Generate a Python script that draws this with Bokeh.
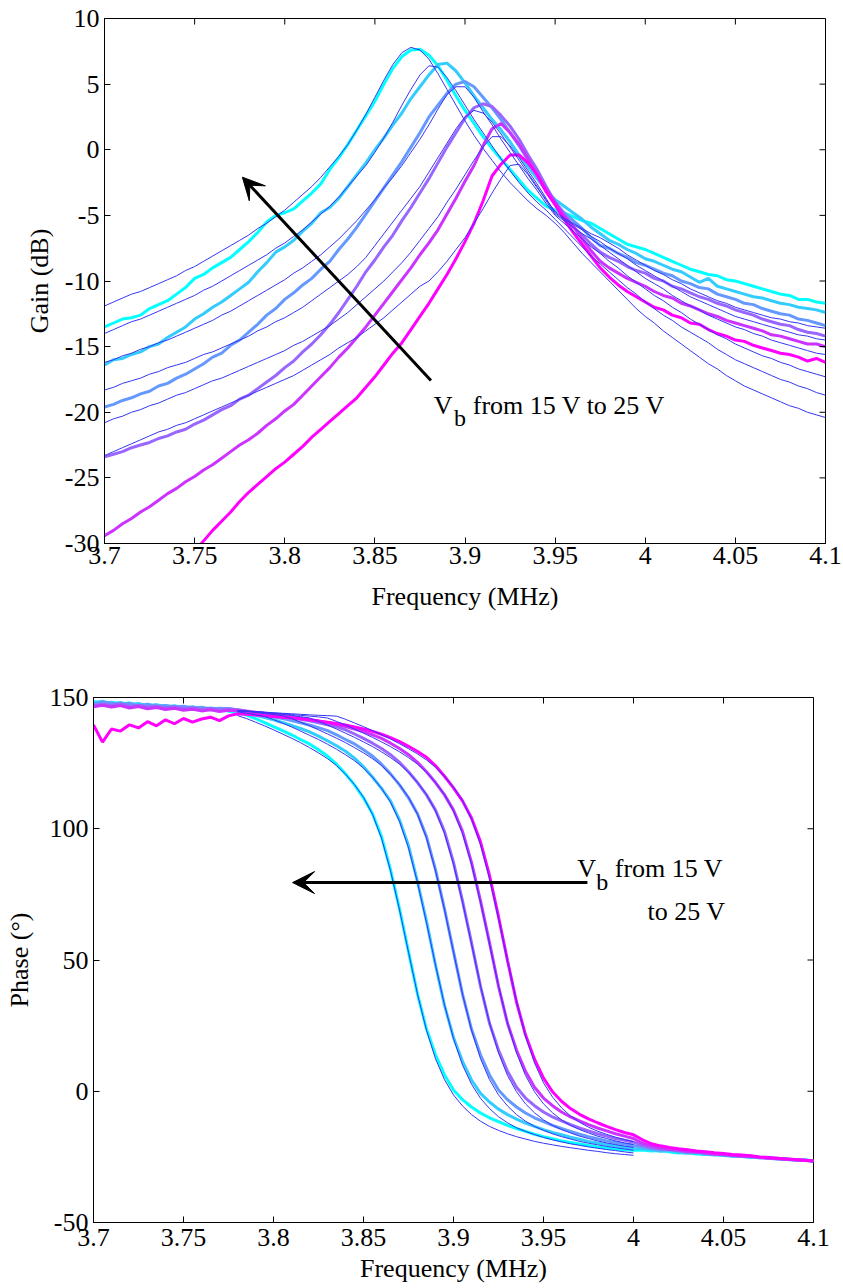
import numpy as np
from bokeh.plotting import figure
from bokeh.layouts import column
from bokeh.models import Range1d, FixedTicker, Label, Arrow, VeeHead
from bokeh.embed import file_html
from bokeh.resources import INLINE

nan = float("nan")

# ---------------- data ----------------
FREQ_MHZ = np.round(np.linspace(3.70, 4.10, 81), 3)          # measurement sweep grid
FREQ_MODEL_PHASE = np.round(np.linspace(3.78, 4.00, 45), 3)  # model grid (phase)

X_TICKS = [3.7, 3.75, 3.8, 3.85, 3.9, 3.95, 4.0, 4.05, 4.1]
X_TICK_LABELS = ["3.7", "3.75", "3.8", "3.85", "3.9", "3.95", "4", "4.05", "4.1"]
GAIN_TICKS = [-30, -25, -20, -15, -10, -5, 0, 5, 10]
GAIN_TICK_LABELS = ["-30", "-25", "-20", "-15", "-10", "-5", "0", "5", "10"]
PHASE_TICKS = [-50, 0, 50, 100, 150]
PHASE_TICK_LABELS = ["-50", "0", "50", "100", "150"]

MEAS_COLORS = ["#00FFFF", "#33CCFF", "#6699FF", "#9966FF", "#CC33FF", "#FF00FF"]
MODEL_COLOR = "#3535F5"

# measured gain (dB), Vb = 25 V ... 15 V
GAIN_M1 = [-13.5,-13.2,-12.9,-12.8,-12.6,-12.1,-11.8,-11.5,-11.0,-10.5,
           -9.8,-9.5,-9.0,-8.6,-8.2,-7.6,-7.0,-6.3,-5.5,-5.0,
           -4.8,-4.5,-3.9,-3.3,-2.6,-1.5,-0.6,0.4,1.5,2.6,
           3.7,5.0,6.2,7.1,7.6,7.65,7.2,6.4,5.3,4.1,
           3.0,2.0,1.0,0.1,-0.7,-1.5,-2.3,-3.1,-3.7,-4.3,
           -4.6,-4.8,-5.1,-5.4,-5.6,-6.0,-6.4,-6.8,-7.2,-7.4,
           -7.6,-7.9,-8.2,-8.5,-8.8,-9.1,-9.3,-9.5,-9.6,-9.9,
           -10.0,-10.2,-10.4,-10.6,-10.8,-11.0,-11.1,-11.4,-11.4,-11.6,
           -11.7]
GAIN_M2 = [-16.4,-16.0,-15.9,-15.6,-15.4,-15.0,-14.8,-14.3,-13.9,-13.5,
           -12.9,-12.5,-12.0,-11.6,-11.1,-10.6,-10.1,-9.3,-8.6,-7.8,
           -7.4,-6.9,-6.2,-5.6,-4.8,-4.4,-3.7,-2.8,-1.9,-1.0,
           0.0,0.9,1.9,2.8,3.9,4.8,5.7,6.5,6.6,6.0,
           5.1,4.1,3.2,2.3,1.5,0.6,-0.4,-1.3,-2.2,-3.1,
           -3.8,-4.3,-4.8,-5.3,-5.9,-6.4,-6.9,-7.2,-7.6,-7.9,
           -8.3,-8.5,-8.8,-9.1,-9.3,-9.7,-10.1,-9.8,-10.4,-10.6,
           -10.8,-11.0,-11.2,-11.3,-11.5,-11.7,-11.8,-12.0,-12.1,-12.2,
           -12.4]
GAIN_M3 = [-19.6,-19.4,-19.1,-18.9,-18.6,-18.4,-18.0,-17.8,-17.4,-17.1,
           -16.7,-16.3,-15.8,-15.5,-14.9,-14.5,-13.9,-13.3,-12.6,-12.1,
           -11.4,-10.9,-10.3,-9.8,-9.1,-8.5,-7.6,-6.8,-5.9,-4.9,
           -3.9,-2.9,-1.9,-0.9,0.2,1.3,2.5,3.4,4.3,5.0,
           5.2,4.8,4.0,3.2,2.3,1.3,0.3,-0.8,-1.9,-3.0,
           -4.0,-4.8,-5.4,-6.0,-6.7,-7.3,-7.5,-7.9,-8.2,-8.6,
           -8.8,-9.1,-9.4,-9.6,-10.0,-10.2,-10.5,-10.6,-11.0,-11.2,
           -11.4,-11.7,-11.8,-12.1,-12.3,-12.5,-12.6,-12.9,-13.0,-13.2,
           -13.4]
GAIN_M4 = [-23.4,-23.2,-23.0,-22.7,-22.5,-22.3,-22.0,-21.8,-21.5,-21.3,
           -20.9,-20.6,-20.2,-19.8,-19.5,-19.0,-18.7,-18.2,-17.7,-17.2,
           -16.6,-16.1,-15.4,-14.8,-14.1,-13.3,-12.4,-11.4,-10.4,-9.3,
           -8.4,-7.4,-6.5,-5.4,-4.4,-3.3,-2.2,-1.0,0.2,1.3,
           2.4,3.2,3.5,3.3,2.6,1.8,0.8,-0.4,-1.5,-2.8,
           -4.0,-5.1,-5.9,-6.5,-7.2,-7.8,-8.2,-8.5,-8.9,-9.2,
           -9.4,-9.8,-10.0,-10.4,-10.6,-10.9,-11.2,-11.4,-11.7,-11.9,
           -12.2,-12.4,-12.6,-12.9,-13.1,-13.3,-13.4,-13.7,-13.9,-14.0,
           -14.2]
GAIN_M5 = [-29.4,-29.0,-28.5,-28.1,-27.6,-27.2,-26.7,-26.2,-25.8,-25.3,
           -24.9,-24.4,-24.0,-23.5,-23.0,-22.5,-22.1,-21.6,-21.0,-20.5,
           -19.9,-19.4,-18.7,-18.0,-17.3,-16.6,-15.8,-15.1,-14.3,-13.5,
           -12.6,-11.7,-10.8,-9.9,-9.0,-8.0,-7.1,-6.1,-4.9,-3.7,
           -2.4,-1.2,0.3,1.6,2.0,1.3,0.4,-0.7,-1.9,-3.0,
           -4.0,-5.0,-5.8,-6.8,-7.7,-8.5,-9.0,-9.4,-9.8,-10.1,
           -10.4,-10.8,-11.1,-11.3,-11.7,-11.9,-12.2,-12.5,-12.7,-13.0,
           -13.2,-13.4,-13.6,-13.8,-14.1,-14.2,-14.4,-14.6,-14.8,-14.8,
           -15.0]
GAIN_M6 = [nan,nan,nan,nan,nan,nan,nan,nan,nan,nan,
           -30.6,-29.8,-29.0,-28.3,-27.6,-26.8,-26.1,-25.5,-24.9,-24.3,
           -23.8,-23.2,-22.6,-21.9,-21.3,-20.7,-20.1,-19.5,-18.9,-18.1,
           -17.3,-16.4,-15.5,-14.7,-13.7,-12.7,-11.7,-10.6,-9.5,-8.3,
           -7.0,-5.6,-3.9,-2.0,-1.1,-0.4,-0.4,-1.0,-1.9,-3.2,
           -4.2,-5.3,-6.3,-7.2,-8.1,-9.0,-9.7,-10.3,-10.8,-11.2,
           -11.6,-12.0,-12.2,-12.6,-12.8,-13.2,-13.3,-13.7,-14.0,-14.2,
           -14.5,-14.6,-14.9,-15.1,-15.3,-15.5,-15.6,-15.8,-16.1,-15.9,
           -16.2]

# model gain (dB)
GAIN_L1 = [-11.9,-11.6,-11.3,-11.0,-10.8,-10.5,-10.2,-9.9,-9.6,-9.2,
           -8.9,-8.5,-8.1,-7.7,-7.3,-6.9,-6.5,-6.0,-5.6,-5.1,
           -4.6,-4.0,-3.4,-2.8,-2.1,-1.3,-0.5,0.4,1.5,2.7,
           4.0,5.3,6.5,7.4,7.8,7.6,6.9,5.8,4.6,3.4,
           2.2,1.1,0.1,-0.8,-1.7,-2.5,-3.2,-3.9,-4.5,-5.0,
           -5.6,-6.3,-7.1,-7.9,-8.6,-9.3,-10.0,-10.7,-11.4,-12.1,
           -12.7,-13.2,-13.8,-14.3,-14.8,-15.3,-15.8,-16.3,-16.7,-17.2,
           -17.6,-18.0,-18.3,-18.6,-18.9,-19.2,-19.5,-19.7,-20.0,-20.2,
           -20.4]
GAIN_L2 = [-14.0,-13.7,-13.4,-13.1,-12.9,-12.6,-12.3,-12.0,-11.7,-11.4,
           -11.1,-10.7,-10.4,-10.0,-9.6,-9.2,-8.8,-8.4,-8.0,-7.5,
           -7.1,-6.6,-6.1,-5.5,-4.9,-4.3,-3.6,-2.8,-2.0,-1.2,
           -0.2,0.9,2.1,3.4,4.6,5.7,6.4,6.3,5.5,4.5,
           3.4,2.3,1.3,0.3,-0.7,-1.6,-2.5,-3.3,-4.0,-4.6,
           -5.3,-6.0,-6.7,-7.4,-8.1,-8.7,-9.3,-9.9,-10.5,-11.0,
           -11.6,-12.1,-12.6,-13.0,-13.5,-13.9,-14.3,-14.7,-15.2,-15.6,
           -16.0,-16.3,-16.6,-16.9,-17.2,-17.5,-17.7,-18.0,-18.2,-18.5,
           -18.7]
GAIN_L3 = [-16.2,-16.0,-15.7,-15.5,-15.2,-15.0,-14.7,-14.5,-14.2,-13.9,
           -13.6,-13.3,-13.0,-12.6,-12.3,-11.9,-11.5,-11.1,-10.7,-10.3,
           -9.9,-9.4,-9.0,-8.5,-8.0,-7.4,-6.8,-6.1,-5.4,-4.6,
           -3.8,-2.9,-2.1,-1.2,-0.2,0.8,1.9,3.1,4.2,4.8,
           4.8,4.0,2.9,1.9,0.8,-0.2,-1.2,-2.2,-3.1,-4.1,
           -5.0,-5.6,-6.2,-6.8,-7.4,-7.9,-8.5,-9.0,-9.6,-10.1,
           -10.6,-11.1,-11.5,-12.0,-12.4,-12.9,-13.3,-13.7,-14.1,-14.4,
           -14.8,-15.1,-15.4,-15.7,-15.9,-16.2,-16.4,-16.7,-16.9,-17.1,
           -17.3]
GAIN_L4 = [-18.3,-18.1,-17.8,-17.6,-17.4,-17.1,-16.9,-16.6,-16.4,-16.2,
           -15.9,-15.6,-15.4,-15.1,-14.8,-14.5,-14.2,-13.8,-13.5,-13.1,
           -12.8,-12.4,-12.0,-11.5,-11.0,-10.5,-10.0,-9.5,-8.9,-8.2,
           -7.3,-6.4,-5.5,-4.6,-3.7,-2.8,-1.7,-0.6,0.5,1.6,
           2.5,3.0,2.8,2.1,1.2,0.2,-0.8,-1.8,-2.8,-3.9,
           -4.9,-5.4,-5.9,-6.4,-6.8,-7.3,-7.8,-8.3,-8.8,-9.3,
           -9.8,-10.2,-10.6,-11.1,-11.5,-11.9,-12.2,-12.6,-12.9,-13.2,
           -13.5,-13.7,-14.0,-14.2,-14.5,-14.7,-14.9,-15.1,-15.3,-15.5,
           -15.6]
GAIN_L5 = [-20.8,-20.5,-20.3,-20.0,-19.8,-19.5,-19.3,-19.0,-18.7,-18.5,
           -18.2,-17.9,-17.6,-17.4,-17.1,-16.8,-16.5,-16.2,-15.9,-15.6,
           -15.3,-14.9,-14.6,-14.2,-13.8,-13.4,-12.9,-12.4,-11.8,-11.2,
           -10.6,-10.0,-9.3,-8.6,-7.8,-6.9,-6.0,-5.1,-4.0,-3.0,
           -1.9,-0.8,0.2,1.0,1.0,0.3,-0.6,-1.6,-2.6,-3.7,
           -4.8,-5.3,-5.7,-6.1,-6.6,-7.0,-7.5,-7.9,-8.3,-8.8,
           -9.2,-9.6,-10.0,-10.4,-10.8,-11.2,-11.5,-11.8,-12.1,-12.4,
           -12.7,-12.9,-13.1,-13.3,-13.5,-13.7,-13.9,-14.1,-14.2,-14.4,
           -14.5]
GAIN_L6 = [-23.3,-23.0,-22.7,-22.4,-22.1,-21.8,-21.5,-21.3,-21.0,-20.8,
           -20.5,-20.2,-19.9,-19.6,-19.3,-19.0,-18.7,-18.4,-18.1,-17.8,
           -17.5,-17.2,-16.8,-16.4,-16.0,-15.6,-15.1,-14.7,-14.3,-13.8,
           -13.3,-12.8,-12.2,-11.6,-11.0,-10.4,-10.0,-9.3,-8.5,-7.6,
           -6.7,-5.6,-4.5,-3.3,-2.2,-1.2,-1.1,-1.9,-2.9,-3.8,
           -4.7,-5.2,-5.6,-6.0,-6.4,-6.7,-7.1,-7.5,-8.0,-8.4,
           -8.8,-9.2,-9.5,-9.9,-10.2,-10.6,-10.9,-11.2,-11.5,-11.7,
           -12.0,-12.2,-12.4,-12.6,-12.8,-12.9,-13.1,-13.2,-13.4,-13.5,
           -13.6]

# measured phase (deg)
PHASE_M1 = [148.5,147.8,148.2,147.5,147.9,147.0,147.4,146.6,147.0,146.2,
            146.5,145.8,146.1,145.3,145.5,144.8,144.3,143.3,142.0,140.4,
            138.9,137.4,135.8,134.0,132.3,130.1,127.7,124.6,120.9,116.7,
            111.8,105.7,97.0,84.4,69.5,53.2,37.0,23.7,13.9,6.2,
            0.5,-3.2,-6.0,-8.3,-10.1,-11.6,-13.0,-14.2,-15.3,-16.4,
            -17.3,-18.1,-18.9,-19.5,-20.1,-20.7,-21.2,-21.6,-22.0,-22.3,
            -22.5,-22.4,-22.8,-22.6,-23.1,-23.5,-23.3,-23.9,-24.1,-23.9,
            -24.5,-24.7,-24.6,-25.1,-25.3,-25.1,-25.7,-25.8,-26.1,-26.2,
            -26.6]
PHASE_M2 = [148.0,148.6,147.6,148.1,147.2,147.7,146.8,147.3,146.5,146.9,
            146.1,146.5,145.7,146.0,145.6,145.8,145.0,144.2,143.3,142.4,
            141.5,140.5,139.4,138.2,136.9,135.3,133.5,131.6,129.5,126.9,
            123.6,119.7,115.4,110.6,103.4,93.6,79.9,64.8,48.1,32.7,
            20.5,11.4,4.3,-0.8,-4.1,-6.8,-8.9,-10.6,-12.1,-13.4,
            -14.6,-15.7,-16.6,-17.5,-18.3,-19.1,-19.7,-20.3,-20.8,-21.3,
            -21.8,-22.0,-22.3,-22.9,-22.6,-23.2,-23.6,-23.4,-24.0,-24.3,
            -24.2,-24.8,-24.9,-25.2,-25.0,-25.6,-25.7,-26.0,-26.3,-26.1,
            -26.7]
PHASE_M3 = [147.5,148.2,147.9,147.3,147.8,146.8,147.4,146.5,147.0,146.3,
            146.7,145.9,146.3,145.6,145.9,145.7,145.3,144.7,144.1,143.4,
            142.7,142.0,141.2,140.4,139.5,138.5,137.4,135.8,134.0,132.3,
            130.1,127.7,124.6,120.9,116.7,111.8,105.7,97.0,84.4,69.5,
            53.2,37.0,23.7,13.9,6.2,0.5,-3.2,-6.0,-8.3,-10.1,
            -11.6,-13.0,-14.2,-15.3,-16.4,-17.3,-18.1,-18.9,-19.5,-20.1,
            -20.7,-21.2,-21.9,-22.4,-22.2,-22.9,-23.3,-23.1,-23.8,-24.0,
            -24.3,-24.5,-24.4,-25.0,-25.2,-25.4,-25.5,-25.9,-26.0,-26.4,
            -26.5]
PHASE_M4 = [146.8,147.5,147.0,147.6,146.6,147.1,146.3,146.8,146.0,146.5,
            145.7,146.1,145.4,145.8,145.2,145.6,145.3,144.9,144.4,143.9,
            143.4,142.9,142.3,141.7,141.1,140.4,139.6,138.8,137.7,136.1,
            134.4,132.6,130.6,128.2,125.3,121.7,117.6,112.9,107.1,99.0,
            87.2,72.5,56.6,40.0,25.9,15.7,7.6,1.5,-2.6,-5.5,
            -7.9,-9.8,-11.3,-12.7,-14.0,-15.1,-16.2,-17.1,-18.0,-18.7,
            -19.4,-20.6,-21.5,-21.9,-22.3,-22.6,-23.1,-23.0,-23.6,-24.0,
            -24.1,-24.6,-24.7,-24.9,-25.3,-25.4,-25.8,-25.7,-26.2,-26.4,
            -26.6]
PHASE_M5 = [146.5,147.0,146.4,146.9,146.0,146.6,145.7,146.2,145.4,145.9,
            145.1,145.5,144.9,145.3,144.7,145.1,145.0,144.7,144.3,143.9,
            143.5,143.1,142.6,142.1,141.6,141.0,140.4,139.7,138.9,138.0,
            137.0,135.8,134.4,132.6,130.6,128.2,125.3,121.7,117.6,112.9,
            107.1,99.0,87.2,72.5,56.6,40.0,25.9,15.7,7.6,1.5,
            -2.6,-5.5,-7.9,-9.8,-11.3,-12.7,-14.0,-15.1,-16.2,-17.1,
            -18.0,-19.8,-20.9,-21.6,-22.1,-22.4,-22.9,-23.2,-23.4,-23.9,
            -24.0,-24.4,-24.8,-24.7,-25.2,-25.5,-25.6,-25.9,-26.2,-26.3,
            -26.6]
PHASE_M6 = [139.5,133.0,138.0,137.2,139.6,138.4,140.8,139.2,141.5,140.0,
            142.0,140.6,141.8,142.5,141.2,143.0,143.8,143.6,143.3,143.0,
            142.8,142.5,142.2,141.9,141.5,141.1,140.6,140.1,139.5,138.8,
            138.0,137.1,136.0,134.7,133.2,131.4,129.4,127.2,124.0,120.0,
            115.6,110.6,104.1,95.0,82.2,66.5,49.8,34.0,21.5,12.2,
            5.0,-0.2,-3.8,-6.6,-8.8,-10.5,-12.0,-13.4,-14.6,-15.7,
            -16.6,-18.5,-20.0,-20.8,-21.4,-21.9,-22.3,-22.8,-23.0,-23.4,
            -23.7,-24.1,-24.3,-24.6,-25.0,-25.2,-25.5,-25.8,-26.0,-26.3,
            -26.6]

# model phase (deg), 3.78 .. 4.00 MHz
PHASE_L1 = [143.1,142.0,140.6,139.2,137.7,136.1,134.5,132.8,130.9,128.9,
            126.7,124.1,120.8,116.8,112.0,105.5,96.4,84.0,69.1,52.9,
            37.0,23.2,12.4,4.4,-1.4,-5.6,-8.9,-11.4,-13.4,-14.9,
            -16.2,-17.3,-18.2,-19.1,-19.8,-20.4,-21.0,-21.5,-22.0,-22.5,
            -22.9,-23.4,-23.8,-24.1,-24.4]
PHASE_L2 = [144.6,144.0,143.4,142.8,141.6,140.2,138.8,137.2,135.6,134.0,
            132.2,130.3,128.2,125.9,123.1,119.6,115.4,110.1,102.8,92.7,
            79.5,64.2,48.1,32.9,20.0,10.0,2.7,-2.7,-6.6,-9.7,
            -12.0,-13.9,-15.3,-16.5,-17.6,-18.5,-19.3,-20.0,-20.6,-21.2,
            -21.7,-22.2,-22.6,-23.1,-23.5]
PHASE_L3 = [145.0,144.7,144.3,143.9,143.5,143.1,142.0,140.6,139.2,137.7,
            136.1,134.5,132.8,130.9,128.9,126.7,124.1,120.8,116.8,112.0,
            105.5,96.4,84.0,69.1,52.9,37.0,23.2,12.4,4.4,-1.4,
            -5.6,-8.9,-11.4,-13.4,-14.9,-16.2,-17.3,-18.2,-19.1,-19.8,
            -20.4,-21.0,-21.5,-22.0,-22.5]
PHASE_L4 = [145.0,144.8,144.5,144.2,143.9,143.6,143.2,142.7,142.2,140.9,
            139.5,138.0,136.4,134.8,133.1,131.3,129.3,127.1,124.6,121.5,
            117.6,113.0,106.8,98.2,86.5,72.1,56.1,40.2,26.0,14.6,
            6.0,-0.2,-4.8,-8.2,-10.9,-13.0,-14.6,-15.9,-17.1,-18.0,
            -18.9,-19.7,-20.3,-20.9,-21.4]
PHASE_L5 = [145.0,144.8,144.6,144.4,144.1,143.8,143.5,143.2,142.9,142.6,
            142.2,140.9,139.5,138.0,136.4,134.8,133.1,131.3,129.3,127.1,
            124.6,121.5,117.6,113.0,106.8,98.2,86.5,72.1,56.1,40.2,
            26.0,14.6,6.0,-0.2,-4.8,-8.2,-10.9,-13.0,-14.6,-15.9,
            -17.1,-18.0,-18.9,-19.7,-20.3]
PHASE_L6 = [144.8,144.7,144.6,144.4,144.2,144.0,143.8,143.6,143.4,143.2,
            143.1,142.9,141.7,140.3,138.9,137.4,135.8,134.2,132.4,130.5,
            128.5,126.2,123.4,120.0,115.8,110.7,103.7,93.9,81.0,65.9,
            49.7,34.2,21.0,10.8,3.2,-2.2,-6.3,-9.4,-11.8,-13.7,
            -15.2,-16.4,-17.5,-18.4,-19.2]

GAIN_MEAS = [GAIN_M1, GAIN_M2, GAIN_M3, GAIN_M4, GAIN_M5, GAIN_M6]
GAIN_MODEL = [GAIN_L1, GAIN_L2, GAIN_L3, GAIN_L4, GAIN_L5, GAIN_L6]
PHASE_MEAS = [PHASE_M1, PHASE_M2, PHASE_M3, PHASE_M4, PHASE_M5, PHASE_M6]
PHASE_MODEL = [PHASE_L1, PHASE_L2, PHASE_L3, PHASE_L4, PHASE_L5, PHASE_L6]

# ---------------- styling helpers ----------------
FONT = "Liberation Serif"
FS = "26px"
TICK_LEN = 6  # px, ticks drawn inside the frame


def style_axis(ax, ticks, labels, label_standoff, tick_standoff):
    ax.ticker = FixedTicker(ticks=ticks)
    ax.major_label_overrides = {t: l for t, l in zip(ticks, labels)}
    ax.major_tick_in = TICK_LEN
    ax.major_tick_out = 0
    ax.minor_tick_line_color = None
    ax.axis_line_color = "black"
    ax.major_tick_line_color = "black"
    ax.major_label_text_font = FONT
    ax.major_label_text_font_size = FS
    ax.major_label_text_color = "black"
    ax.major_label_standoff = tick_standoff
    ax.axis_label_text_font = FONT
    ax.axis_label_text_font_size = FS
    ax.axis_label_text_font_style = "normal"
    ax.axis_label_text_color = "black"
    ax.axis_label_standoff = label_standoff


def mirror_ticks(p, xr, yr, fw, fh, xticks, yticks):
    # tick marks on the top and right edges of the box (MATLAB style), from the tick lists
    dy = TICK_LEN * (yr[1] - yr[0]) / fh
    dx = TICK_LEN * (xr[1] - xr[0]) / fw
    p.segment(x0=xticks, x1=xticks, y0=[yr[1]] * len(xticks), y1=[yr[1] - dy] * len(xticks),
              line_color="black", line_width=1)
    p.segment(x0=[xr[1]] * len(yticks), x1=[xr[1] - dx] * len(yticks), y0=yticks, y1=yticks,
              line_color="black", line_width=1)


def make_fig(xr, yr, fw, fh, b_left, b_right, b_top, b_bottom):
    p = figure(x_range=Range1d(*xr), y_range=Range1d(*yr),
               output_backend="svg", toolbar_location=None,
               min_border_left=b_left, min_border_right=b_right,
               min_border_top=b_top, min_border_bottom=b_bottom)
    p.frame_width = fw
    p.frame_height = fh
    p.frame_align = False
    p.xgrid.visible = False
    p.ygrid.visible = False
    p.outline_line_color = "black"
    p.outline_line_width = 1
    p.background_fill_color = "white"
    p.border_fill_color = "white"
    return p


XR = (3.7, 4.1)

# ---------------- gain plot ----------------
GR = (-30, 10)
p1 = make_fig(XR, GR, 721, 525, 104, 18, 18, 72)
for ys, c in zip(GAIN_MEAS, MEAS_COLORS):
    p1.line(FREQ_MHZ, ys, line_color=c, line_width=3)
for ys in GAIN_MODEL:
    p1.line(FREQ_MHZ, ys, line_color=MODEL_COLOR, line_width=1)
style_axis(p1.xaxis[0], X_TICKS, X_TICK_LABELS, 15, 3)
style_axis(p1.yaxis[0], GAIN_TICKS, GAIN_TICK_LABELS, 8, 5)
p1.xaxis[0].axis_label = "Frequency (MHz)"
p1.yaxis[0].axis_label = "Gain (dB)"
mirror_ticks(p1, XR, GR, 721, 525, X_TICKS, GAIN_TICKS)

p1.add_layout(Arrow(end=VeeHead(size=22, fill_color="black", line_color="black"),
                    x_start=3.8811, y_start=-17.58, x_end=3.7765, y_end=-2.09,
                    line_width=3, line_color="black"))
p1.add_layout(Label(x=3.8826, y=-19.49, text="V", text_font=FONT, text_font_size=FS,
                    text_baseline="alphabetic", text_align="left", text_color="black"))
p1.add_layout(Label(x=3.8939, y=-20.45, text="b", text_font=FONT, text_font_size="24px",
                    text_baseline="alphabetic", text_align="left", text_color="black"))
p1.add_layout(Label(x=3.9043, y=-19.49, text="from 15 V to 25 V", text_font=FONT,
                    text_font_size=FS, text_baseline="alphabetic", text_align="left",
                    text_color="black"))

# ---------------- phase plot ----------------
PR = (-50, 150)
p2 = make_fig(XR, PR, 720, 525, 93, 30, 82, 65)
for ys, c in zip(PHASE_MEAS, MEAS_COLORS):
    p2.line(FREQ_MHZ, ys, line_color=c, line_width=3)
for ys in PHASE_MODEL:
    p2.line(FREQ_MODEL_PHASE, ys, line_color=MODEL_COLOR, line_width=1)
style_axis(p2.xaxis[0], X_TICKS, X_TICK_LABELS, 5, 6)
style_axis(p2.yaxis[0], PHASE_TICKS, PHASE_TICK_LABELS, 13, 5)
p2.xaxis[0].axis_label = "Frequency (MHz)"
p2.yaxis[0].axis_label = "Phase (°)"
mirror_ticks(p2, XR, PR, 720, 525, X_TICKS, PHASE_TICKS)

p2.add_layout(Arrow(end=VeeHead(size=22, fill_color="black", line_color="black"),
                    x_start=3.9744, y_start=79.5, x_end=3.8106, y_end=79.5,
                    line_width=3, line_color="black"))
p2.add_layout(Label(x=3.9687, y=84.73, text="V", text_font=FONT, text_font_size=FS,
                    text_baseline="alphabetic", text_align="left", text_color="black"))
p2.add_layout(Label(x=3.9793, y=79.9, text="b", text_font=FONT, text_font_size="24px",
                    text_baseline="alphabetic", text_align="left", text_color="black"))
p2.add_layout(Label(x=3.9896, y=84.73, text="from 15 V", text_font=FONT, text_font_size=FS,
                    text_baseline="alphabetic", text_align="left", text_color="black"))
p2.add_layout(Label(x=4.0511, y=68.48, text="to 25 V", text_font=FONT, text_font_size=FS,
                    text_baseline="alphabetic", text_align="right", text_color="black"))

layout = column(p1, p2, spacing=0)
open("out.html", "w").write(file_html(layout, INLINE))
